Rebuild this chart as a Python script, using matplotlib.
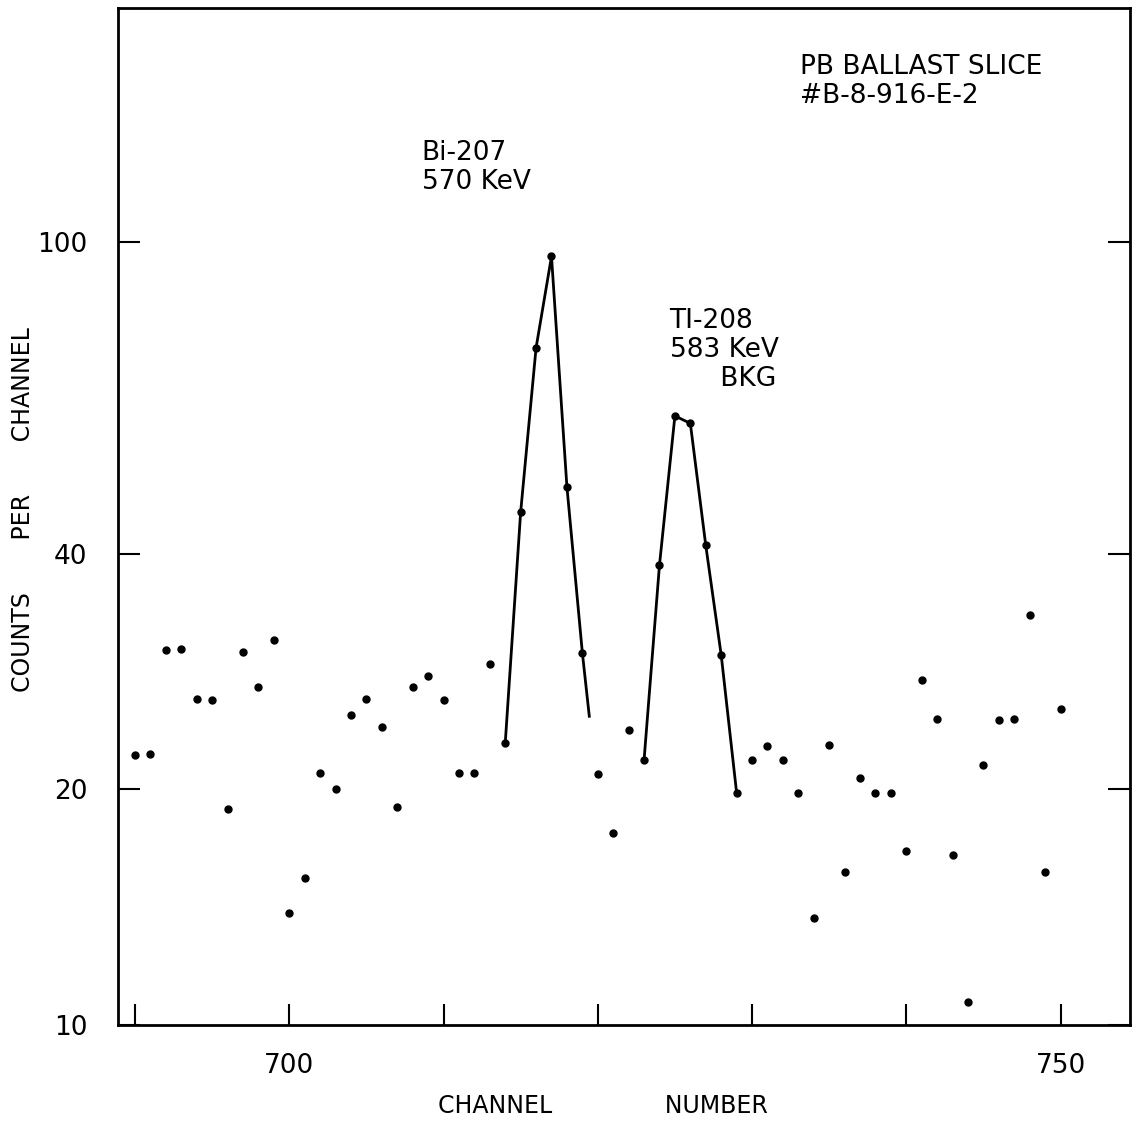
import matplotlib
matplotlib.use('Agg')
import matplotlib.pyplot as plt
import numpy as np

# channel numbers and counts
channels = np.arange(690, 751)
counts = [22.1, 22.2, 30.1, 30.2, 26.1, 26.0, 18.9, 30.0, 27.0, 31.0,
          13.9, 15.4, 21.0, 20.0, 24.9, 26.1, 24.0, 19.0, 27.0, 27.9,
          26.0, 21.0, 21.0, 28.9, 22.9, 45.2, 73.3, 95.9, 48.7, 29.9,
          20.9, 17.6, 23.8, 21.8, 38.7, 60.0, 58.7, 41.0, 29.7, 19.8,
          21.8, 22.7, 21.8, 19.8, 13.7, 22.8, 15.7, 20.7, 19.8, 19.8,
          16.7, 27.6, 24.6, 16.5, 10.7, 21.5, 24.5, 24.6, 33.4, 15.7, 25.3]

# hand drawn curves through the two peaks
bi_x = [714, 715, 716, 717, 718, 719, 719.45]
bi_y = [22.9, 45.2, 73.3, 95.9, 48.7, 29.9, 24.8]
tl_x = [723, 724, 725, 726, 727, 728, 729]
tl_y = [21.8, 38.7, 60.0, 58.7, 41.0, 29.7, 19.8]

fig = plt.figure(figsize=(11.39, 11.21), dpi=100)
ax = fig.add_axes([0.1036, 0.0856, 0.8885, 0.907])

ax.plot(channels, counts, 'o', color='black', markersize=5)
ax.plot(bi_x, bi_y, '-', color='black', lw=2)
ax.plot(tl_x, tl_y, '-', color='black', lw=2)

ax.set_yscale('log')
ax.set_ylim(10, 199)
ax.set_xlim(688.9, 754.5)

ax.set_yticks([10, 20, 40, 100])
ax.set_yticklabels(['10', '20', '40', '100'])
ax.yaxis.set_minor_locator(matplotlib.ticker.NullLocator())
ax.set_xticks([690, 700, 710, 720, 730, 740, 750])
ax.set_xticklabels(['', '700', '', '', '', '', '750'])

ax.tick_params(axis='y', direction='in', length=16, width=1.5, left=True, right=True,
               labelsize=19, pad=22)
ax.tick_params(axis='x', direction='in', length=15, width=1.5, labelsize=19, pad=20)
for s in ax.spines.values():
    s.set_linewidth(2)

ax.set_xlabel('CHANNEL               NUMBER', fontsize=17)
ax.xaxis.set_label_coords(0.479, -0.068)
ax.set_ylabel('COUNTS       PER       CHANNEL', fontsize=17)
ax.yaxis.set_label_coords(-0.082, 0.507)

ax.text(0.674, 0.955, 'PB BALLAST SLICE\n#B-8-916-E-2', transform=ax.transAxes,
        fontsize=19, va='top', linespacing=1.15)
ax.text(0.30, 0.870, 'Bi-207\n570 KeV', transform=ax.transAxes,
        fontsize=19, va='top', linespacing=1.15)
ax.text(0.545, 0.705, 'TI-208\n583 KeV\n      BKG', transform=ax.transAxes,
        fontsize=19, va='top', linespacing=1.15)

fig.savefig('out.png', dpi=100)
